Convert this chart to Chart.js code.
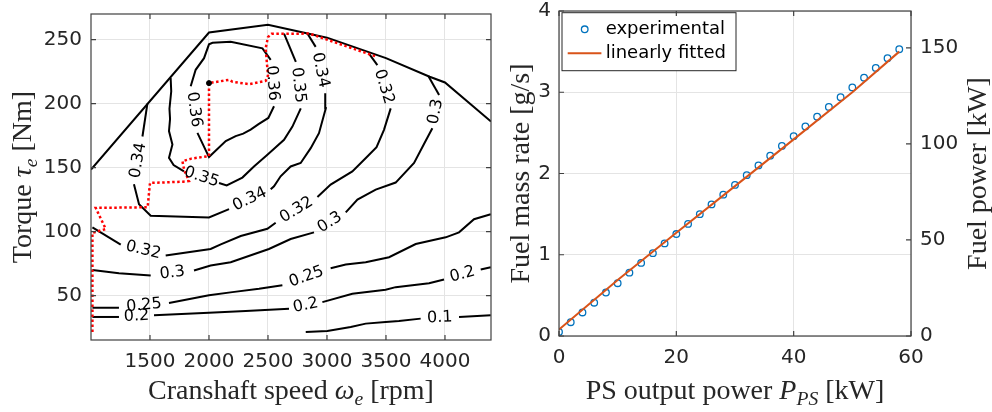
<!DOCTYPE html>
<html>
<head>
<meta charset="utf-8">
<script src="https://cdn.jsdelivr.net/npm/chart.js@4.4.1/dist/chart.umd.min.js"></script>
<style>
  body { margin: 0; background: #fff; width: 992px; height: 412px; overflow: hidden; position: relative; }
  #left { position: absolute; left: 0; top: 0; }
  #right { position: absolute; left: 500px; top: 0; }
</style>
</head>
<body>
<canvas id="left" width="500" height="412"></canvas>
<canvas id="right" width="492" height="412"></canvas>
<script>
// ---- left panel: BSFC-like efficiency map (rpm, Nm) ----
const rpmTicks = [1500, 2000, 2500, 3000, 3500, 4000];
const torqueTicks = [50, 100, 150, 200, 250];

const maxTorqueCurve = [[1000, 148.5], [2000, 255.5], [2500, 261.5], [3000, 251.5], [3500, 235.5], [3870, 221], [4000, 216.5], [4390, 186]];

const optimalLine = [[1012, 21.5], [1012, 99], [1125, 102], [1040, 118.5], [1480, 119], [1500, 138], [1780, 139],
  [1830, 139.5], [1790, 148], [1775, 155], [1850, 157], [2000, 159], [2000, 216], [2170, 218.6], [2200, 217],
  [2339, 215.2], [2480, 217.8], [2500, 222], [2480, 243], [2500, 252], [2530, 254.5], [2850, 254.7], [3000, 250], [3410, 237]];
const optimalStart = [[2000, 216]];

// contour pieces, split where the inline labels sit
const c036 = [
  [[1845, 213.5], [1887, 226.4], [1958, 235.5], [2000, 246.3], [2030, 247.5], [2184, 248.4], [2453, 243.2], [2523, 234.1]],
  [[2551, 197.9], [2503, 188.8], [2420, 184], [2353, 179.7], [2290, 176.5], [2226, 174.6], [2142, 170.7], [2000, 158.2], [1902, 177.1]],
];
const g036 = [[0, 1], [1, 0]];

const c035 = [
  [[1675, 220], [1680, 209.6], [1665, 196], [1670, 188], [1661, 178.5], [1690, 168], [1661, 157.7], [1700, 152], [1788, 147]],
  [[2085, 138], [2150, 136], [2283, 142.2], [2381, 150.9], [2495, 160], [2636, 171.7], [2707, 182], [2778, 196.3]],
  [[2736, 232.6], [2636, 254.7]],
];
const g035 = [[0, 1], [1, 2]];

const c034 = [
  [[1478, 200], [1436, 174.3]],
  [[1364, 137], [1407, 121.4], [1506, 112.4], [2000, 111], [2170, 117.5]],
  [[2523, 133], [2551, 135.4], [2607, 143.2], [2692, 150.9], [2777, 153.6], [2862, 165.2], [2932, 176.9], [2990, 196.3], [2985, 208]],
  [[2904, 244.3], [2834, 254.7]],
];
const g034 = [[0, 1], [1, 2], [2, 3]];

const c032 = [
  [[1012, 103.3], [1252, 89.8]],
  [[1633, 81.3], [2014, 86.4], [2100, 90], [2269, 96.5], [2495, 102.2], [2565, 106.9]],
  [[2919, 127], [3031, 136.7], [3215, 147], [3342, 158.7], [3420, 166], [3483, 179.5], [3540, 196.3]],
  [[3427, 230], [3356, 239.1]],
];
const g032 = [[0, 1], [1, 2], [2, 3]];

const c030 = [
  [[1012, 70], [1237, 67.5], [1506, 65.7]],
  [[1873, 69.6], [2014, 73.5], [2184, 76.1], [2508, 86.4], [2692, 94.2], [2890, 99.4]],
  [[3159, 115], [3258, 125], [3413, 132.8], [3582, 138.3], [3738, 153.6], [3820, 168], [3893, 180.8]],
  [[3950, 206.7], [3859, 221.5]],
];
const g030 = [[0, 1], [1, 2], [2, 3]];

const c025 = [
  [[1012, 40.5], [1237, 40.5]],
  [[1661, 44.2], [2000, 50.2], [2198, 52.7], [2424, 55.3], [2622, 58]],
  [[3031, 71.4], [3159, 74.3], [3328, 76.1], [3526, 80], [3752, 90.3], [4006, 95.5], [4119, 99.4], [4246, 109.7], [4388, 113.6]],
];
const g025 = [[0, 1], [1, 2]];

const c020 = [
  [[1012, 33.3], [1237, 33.3]],
  [[1534, 34.6], [2000, 36.6], [2311, 37.9], [2678, 39.7]],
  [[2961, 44.9], [3215, 51.4], [3497, 54.5], [3582, 56.6], [3865, 59.7], [3992, 62.6]],
  [[4303, 70.4], [4388, 72.2]],
];
const g020 = [[0, 1], [1, 2], [2, 3]];

const c010 = [
  [[2820, 21.6], [3003, 22.4], [3201, 25.5], [3328, 28.1], [3497, 29.4], [3610, 30.2], [3794, 32]],
  [[4119, 33.3], [4388, 34.6]],
];
const g010 = [[0, 1]];

const contours = [
  { level: '0.36', pieces: c036, gaps: g036 },
  { level: '0.35', pieces: c035, gaps: g035 },
  { level: '0.34', pieces: c034, gaps: g034 },
  { level: '0.32', pieces: c032, gaps: g032 },
  { level: '0.3', pieces: c030, gaps: g030 },
  { level: '0.25', pieces: c025, gaps: g025 },
  { level: '0.2', pieces: c020, gaps: g020 },
  { level: '0.1', pieces: c010, gaps: g010 },
];

// ---- right panel: fuel rate vs PS power ----
const psPower = [0, 2, 4, 6, 8, 10, 12, 14, 16, 18, 20, 22, 24, 26, 28, 30, 32, 34, 36, 38, 40, 42, 44, 46, 48, 50, 52, 54, 56, 58];
const fuelRate = [0.05, 0.17, 0.29, 0.41, 0.535, 0.65, 0.78, 0.90, 1.02, 1.14, 1.255, 1.38, 1.50, 1.62, 1.74,
  1.86, 1.98, 2.10, 2.22, 2.34, 2.46, 2.58, 2.70, 2.82, 2.94, 3.06, 3.18, 3.30, 3.42, 3.53];
const fitPower = [0, 10, 20, 30, 40, 50, 58];
const fitRate = [0.08, 0.69, 1.27, 1.845, 2.42, 3.00, 3.50];
const powerTicks = [0, 20, 40, 60];
const rateTicks = [0, 1, 2, 3, 4];
const fuelPowerTicks = [0, 50, 100, 150];
const lhv = 42.3; // kJ/g, links the two y axes

const xy = (pts) => pts.map(([x, y]) => ({ x, y }));
const tickFont = { family: 'DejaVu Sans', size: 20 };
const tickColor = '#262626';
const gridOpt = { color: '#e4e4e4', lineWidth: 1, drawTicks: false };
const serif = "'Liberation Serif', serif";

function fixed(size) {
  return (s) => {
    if (s.isHorizontal()) s.height = size; else s.width = size;
    s.paddingTop = 0; s.paddingBottom = 0; s.paddingLeft = 0; s.paddingRight = 0;
  };
}
function setTicks(list) {
  return (s) => { s.ticks = list.map((v) => ({ value: v })); };
}

function line(pts, color, width, extra) {
  return Object.assign({
    data: xy(pts), showLine: true, pointRadius: 0, borderColor: color,
    borderWidth: width, fill: false, tension: 0,
  }, extra || {});
}

function drawRich(ctx, parts, x, y, rot, size) {
  ctx.save();
  ctx.translate(x, y);
  ctx.rotate(rot);
  const fontOf = (p) => (p.it ? 'italic ' : '') + (p.sub ? size * 0.7 : size) + 'px ' + serif;
  let w = 0;
  parts.forEach((p) => { ctx.font = fontOf(p); w += ctx.measureText(p.t).width; });
  let cx = -w / 2;
  ctx.fillStyle = '#262626';
  ctx.textBaseline = 'alphabetic';
  ctx.textAlign = 'left';
  parts.forEach((p) => {
    ctx.font = fontOf(p);
    ctx.fillText(p.t, cx, p.sub ? size * 0.2 : 0);
    cx += ctx.measureText(p.t).width;
  });
  ctx.restore();
}

const framePlugin = {
  id: 'frame',
  afterDraw(chart) {
    const { ctx, chartArea: a, scales } = chart;
    const len = 5;
    ctx.save();
    ctx.strokeStyle = '#404040';
    ctx.lineWidth = 1.2;
    ctx.strokeRect(a.left, a.top, a.right - a.left, a.bottom - a.top);
    ctx.beginPath();
    scales.x.ticks.forEach((t) => {
      const p = scales.x.getPixelForValue(t.value);
      ctx.moveTo(p, a.bottom); ctx.lineTo(p, a.bottom - len);
      ctx.moveTo(p, a.top); ctx.lineTo(p, a.top + len);
    });
    scales.y.ticks.forEach((t) => {
      const p = scales.y.getPixelForValue(t.value);
      ctx.moveTo(a.left, p); ctx.lineTo(a.left + len, p);
      if (!scales.y2) { ctx.moveTo(a.right, p); ctx.lineTo(a.right - len, p); }
    });
    if (scales.y2) {
      scales.y2.ticks.forEach((t) => {
        const p = scales.y2.getPixelForValue(t.value);
        ctx.moveTo(a.right, p); ctx.lineTo(a.right - len, p);
      });
    }
    ctx.stroke();
    ctx.restore();
  },
};

const contourLabelPlugin = {
  id: 'contourLabels',
  afterDatasetsDraw(chart) {
    const { ctx, scales: { x, y } } = chart;
    ctx.save();
    ctx.font = '16px "DejaVu Sans"';
    ctx.fillStyle = '#000';
    ctx.textAlign = 'center';
    ctx.textBaseline = 'middle';
    contours.forEach((c) => {
      c.gaps.forEach(([i, j]) => {
        const p = c.pieces[i][c.pieces[i].length - 1];
        const q = c.pieces[j][0];
        const x1 = x.getPixelForValue(p[0]), y1 = y.getPixelForValue(p[1]);
        const x2 = x.getPixelForValue(q[0]), y2 = y.getPixelForValue(q[1]);
        let ang = Math.atan2(y2 - y1, x2 - x1);
        if (ang > Math.PI / 2) ang -= Math.PI;
        if (ang < -Math.PI / 2) ang += Math.PI;
        ctx.save();
        ctx.translate((x1 + x2) / 2, (y1 + y2) / 2);
        ctx.rotate(ang);
        ctx.fillText(c.level, 0, 0);
        ctx.restore();
      });
    });
    ctx.restore();
  },
};

const leftTitles = {
  id: 'leftTitles',
  afterDraw(chart) {
    const { ctx, chartArea: a } = chart;
    drawRich(ctx, [{ t: 'Cranshaft speed ' }, { t: 'ω', it: true }, { t: 'e', it: true, sub: true }, { t: ' [rpm]' }],
      (a.left + a.right) / 2, 399, 0, 28);
    drawRich(ctx, [{ t: 'Torque ' }, { t: 'τ', it: true }, { t: 'e', it: true, sub: true }, { t: ' [Nm]' }],
      31, (a.top + a.bottom) / 2, -Math.PI / 2, 28);
  },
};

const rightTitles = {
  id: 'rightTitles',
  afterDraw(chart) {
    const { ctx, chartArea: a } = chart;
    drawRich(ctx, [{ t: 'PS output power ' }, { t: 'P', it: true }, { t: 'PS', it: true, sub: true }, { t: ' [kW]' }],
      (a.left + a.right) / 2, 399, 0, 28);
    drawRich(ctx, [{ t: 'Fuel mass rate [g/s]' }], 29, (a.top + a.bottom) / 2, -Math.PI / 2, 28);
    drawRich(ctx, [{ t: 'Fuel power [kW]' }], 486, (a.top + a.bottom) / 2, -Math.PI / 2, 28);
  },
};

const legendBox = {
  id: 'legendBox',
  afterDraw(chart) {
    const { ctx, chartArea: a } = chart;
    const bx = a.left + 3, by = a.top + 1.7;
    ctx.save();
    ctx.fillStyle = '#fff';
    ctx.strokeStyle = '#262626';
    ctx.lineWidth = 1;
    ctx.fillRect(bx, by, 174, 58);
    ctx.strokeRect(bx, by, 174, 58);
    ctx.strokeStyle = '#0072BD';
    ctx.lineWidth = 1.3;
    ctx.beginPath();
    ctx.arc(a.left + 25.7, a.top + 18.3, 3.3, 0, Math.PI * 2);
    ctx.stroke();
    ctx.strokeStyle = '#D95319';
    ctx.lineWidth = 2;
    ctx.beginPath();
    ctx.moveTo(a.left + 8.7, a.top + 42.3);
    ctx.lineTo(a.left + 42.4, a.top + 42.3);
    ctx.stroke();
    ctx.fillStyle = '#000';
    ctx.font = '18px "DejaVu Sans"';
    ctx.textBaseline = 'middle';
    ctx.fillText('experimental', a.left + 46.7, a.top + 18.5);
    ctx.fillText('linearly fitted', a.left + 46.7, a.top + 42.5);
    ctx.restore();
  },
};

// left chart datasets
const leftSets = [
  line(optimalLine, '#ff0000', 2.5, { borderDash: [2.5, 2.5], order: -2 }),
  { data: xy(optimalStart), showLine: false, pointRadius: 2.5, pointBackgroundColor: '#000', pointBorderColor: '#000', order: -3 },
  line(maxTorqueCurve, '#000', 2),
];
contours.forEach((c) => c.pieces.forEach((p) => leftSets.push(line(p, '#000', 2))));

new Chart(document.getElementById('left'), {
  type: 'scatter',
  data: { datasets: leftSets },
  options: {
    responsive: false,
    animation: false,
    events: [],
    layout: { padding: { top: 14, right: 9, left: 0, bottom: 0 } },
    plugins: { legend: { display: false }, tooltip: { enabled: false } },
    scales: {
      x: {
        type: 'linear', min: 1000, max: 4390,
        afterBuildTicks: setTicks(rpmTicks), afterFit: fixed(72),
        ticks: { font: tickFont, color: tickColor, padding: 10, maxRotation: 0, autoSkip: false, callback: (v) => String(v) },
        grid: gridOpt, border: { display: false },
      },
      y: {
        type: 'linear', min: 15.3, max: 270,
        afterBuildTicks: setTicks(torqueTicks), afterFit: fixed(91),
        ticks: { font: tickFont, color: tickColor, padding: 9, autoSkip: false, callback: (v) => String(v) },
        grid: gridOpt, border: { display: false },
      },
    },
  },
  plugins: [contourLabelPlugin, framePlugin, leftTitles],
});

new Chart(document.getElementById('right'), {
  type: 'scatter',
  data: {
    datasets: [
      {
        label: 'experimental',
        data: psPower.map((p, i) => ({ x: p, y: fuelRate[i] })),
        showLine: false, pointRadius: 3.3, pointStyle: 'circle',
        pointBorderColor: '#0072BD', pointBackgroundColor: 'rgba(0,0,0,0)', pointBorderWidth: 1.3,
        order: 1,
      },
      {
        label: 'linearly fitted',
        data: fitPower.map((p, i) => ({ x: p, y: fitRate[i] })),
        showLine: true, pointRadius: 0, borderColor: '#D95319', borderWidth: 2, tension: 0,
        order: 0,
      },
    ],
  },
  options: {
    responsive: false,
    animation: false,
    events: [],
    layout: { padding: { top: 11, right: 0, left: 0, bottom: 0 } },
    plugins: { legend: { display: false }, tooltip: { enabled: false } },
    scales: {
      x: {
        type: 'linear', min: 0, max: 60,
        afterBuildTicks: setTicks(powerTicks), afterFit: fixed(76),
        ticks: { font: tickFont, color: tickColor, padding: 10, maxRotation: 0, autoSkip: false, callback: (v) => String(v) },
        grid: gridOpt, border: { display: false },
      },
      y: {
        type: 'linear', position: 'left', min: 0, max: 4,
        afterBuildTicks: setTicks(rateTicks), afterFit: fixed(59),
        ticks: { font: tickFont, color: tickColor, padding: 8, autoSkip: false, callback: (v) => String(v) },
        grid: gridOpt, border: { display: false },
      },
      y2: {
        type: 'linear', position: 'right', min: 0, max: 4 * lhv,
        afterBuildTicks: setTicks(fuelPowerTicks), afterFit: fixed(81),
        ticks: { font: tickFont, color: tickColor, padding: 9, autoSkip: false, callback: (v) => String(v) },
        grid: { display: false, drawTicks: false }, border: { display: false },
      },
    },
  },
  plugins: [legendBox, framePlugin, rightTitles],
});
</script>
</body>
</html>
